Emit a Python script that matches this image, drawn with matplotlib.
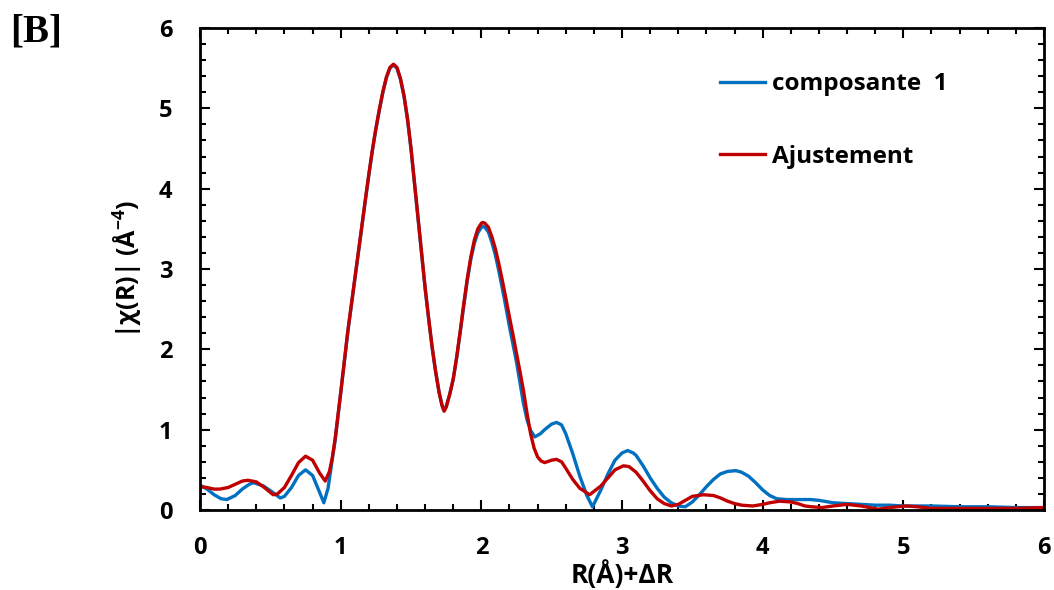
import numpy as np
import matplotlib
matplotlib.use("Agg")
import matplotlib.pyplot as plt
from matplotlib.ticker import MultipleLocator

plt.rcParams['font.family'] = ['Open Sans', 'DejaVu Sans']
plt.rcParams['mathtext.default'] = 'regular'

# composante 1 (blue)
r_comp = [0.00, 0.05, 0.10, 0.15, 0.19, 0.25, 0.30, 0.35, 0.38, 0.45, 0.50, 0.57, 0.60, 0.65,
          0.70, 0.75, 0.80, 0.85, 0.88, 0.91, 0.94, 0.96, 1.00, 1.025, 1.05, 1.075, 1.10, 1.125,
          1.15, 1.175, 1.20, 1.225, 1.25, 1.275, 1.30, 1.325, 1.35, 1.375, 1.40, 1.425, 1.45,
          1.475, 1.50, 1.525, 1.55, 1.575, 1.60, 1.625, 1.65, 1.675, 1.70, 1.72, 1.735, 1.75,
          1.775, 1.80, 1.825, 1.85, 1.875, 1.90, 1.925, 1.95, 1.975, 2.00, 2.01, 2.025, 2.05,
          2.075, 2.10, 2.125, 2.15, 2.175, 2.20, 2.225, 2.25, 2.275, 2.30, 2.325, 2.35, 2.38,
          2.42, 2.45, 2.50, 2.535, 2.57, 2.60, 2.65, 2.70, 2.75, 2.79, 2.85, 2.90, 2.95, 3.00,
          3.04, 3.08, 3.10, 3.15, 3.20, 3.25, 3.30, 3.35, 3.40, 3.45, 3.50, 3.55, 3.60, 3.65,
          3.70, 3.75, 3.81, 3.85, 3.90, 3.95, 4.00, 4.05, 4.10, 4.17, 4.25, 4.34, 4.40, 4.50,
          4.60, 4.70, 4.80, 4.90, 5.00, 5.20, 5.40, 5.60, 5.80, 6.00]
chi_comp = [0.31, 0.26, 0.19, 0.14, 0.13, 0.18, 0.26, 0.32, 0.34, 0.30, 0.24, 0.15, 0.17, 0.28,
            0.43, 0.50, 0.43, 0.22, 0.09, 0.27, 0.63, 0.86, 1.45, 1.83, 2.21, 2.54, 2.87, 3.20,
            3.52, 3.85, 4.17, 4.47, 4.74, 4.98, 5.20, 5.38, 5.50, 5.54, 5.50, 5.36, 5.15,
            4.86, 4.49, 4.06, 3.62, 3.19, 2.76, 2.38, 2.02, 1.72, 1.46, 1.31, 1.24, 1.29,
            1.44, 1.63, 1.90, 2.22, 2.55, 2.86, 3.12, 3.32, 3.45, 3.52, 3.53, 3.52, 3.46,
            3.33, 3.17, 2.97, 2.75, 2.52, 2.28, 2.06, 1.84, 1.58, 1.32, 1.12, 0.99, 0.91,
            0.95, 1.00, 1.07, 1.09, 1.06, 0.95, 0.70, 0.42, 0.18, 0.04, 0.25, 0.45, 0.62, 0.71,
            0.74, 0.71, 0.68, 0.55, 0.40, 0.27, 0.16, 0.09, 0.05, 0.04, 0.10, 0.19, 0.29, 0.38,
            0.45, 0.48, 0.49, 0.47, 0.42, 0.34, 0.25, 0.18, 0.14, 0.13, 0.13, 0.13, 0.12, 0.09,
            0.08, 0.07, 0.06, 0.06, 0.05, 0.05, 0.04, 0.04, 0.03, 0.03]

# Ajustement (red)
r_fit = [0.00, 0.05, 0.10, 0.14, 0.20, 0.25, 0.30, 0.34, 0.40, 0.45, 0.52, 0.55, 0.60, 0.65,
         0.70, 0.75, 0.80, 0.85, 0.89, 0.92, 0.94, 0.96, 1.00, 1.025, 1.05, 1.075, 1.10, 1.125,
         1.15, 1.175, 1.20, 1.225, 1.25, 1.275, 1.30, 1.325, 1.35, 1.375, 1.40, 1.425, 1.45,
         1.475, 1.50, 1.525, 1.55, 1.575, 1.60, 1.625, 1.65, 1.675, 1.70, 1.72, 1.735, 1.75,
         1.775, 1.80, 1.825, 1.85, 1.875, 1.90, 1.925, 1.95, 1.975, 2.00, 2.01, 2.025, 2.05,
         2.075, 2.10, 2.125, 2.15, 2.175, 2.20, 2.225, 2.25, 2.275, 2.30, 2.325, 2.35, 2.375,
         2.40, 2.425, 2.45, 2.50, 2.535, 2.57, 2.60, 2.65, 2.70, 2.77, 2.85, 2.90, 2.95, 3.01,
         3.05, 3.10, 3.15, 3.20, 3.25, 3.30, 3.35, 3.40, 3.45, 3.50, 3.58, 3.65, 3.70, 3.75,
         3.80, 3.85, 3.93, 4.00, 4.05, 4.12, 4.20, 4.25, 4.30, 4.35, 4.42, 4.50, 4.60, 4.70,
         4.82, 4.90, 5.02, 5.10, 5.20, 5.40, 5.60, 5.80, 6.00]
chi_fit = [0.29, 0.28, 0.26, 0.26, 0.28, 0.32, 0.36, 0.37, 0.35, 0.29, 0.19, 0.20, 0.28, 0.43,
           0.59, 0.67, 0.62, 0.46, 0.36, 0.48, 0.65, 0.88, 1.46, 1.84, 2.22, 2.55, 2.88, 3.21,
           3.53, 3.86, 4.18, 4.48, 4.75, 4.99, 5.21, 5.39, 5.51, 5.55, 5.51, 5.37, 5.16,
           4.87, 4.50, 4.07, 3.63, 3.20, 2.77, 2.39, 2.03, 1.72, 1.46, 1.30, 1.23, 1.28,
           1.44, 1.63, 1.91, 2.23, 2.57, 2.88, 3.15, 3.36, 3.50, 3.57, 3.58, 3.57, 3.52,
           3.40, 3.25, 3.06, 2.85, 2.63, 2.40, 2.18, 1.95, 1.72, 1.48, 1.20, 0.95, 0.77,
           0.66, 0.61, 0.59, 0.62, 0.63, 0.60, 0.52, 0.38, 0.27, 0.19, 0.30, 0.40, 0.50, 0.55,
           0.54, 0.47, 0.36, 0.24, 0.14, 0.08, 0.05, 0.07, 0.12, 0.17, 0.19, 0.18, 0.15, 0.11,
           0.08, 0.06, 0.05, 0.07, 0.09, 0.11, 0.10, 0.08, 0.05, 0.04, 0.03, 0.05, 0.07, 0.05,
           0.01, 0.03, 0.05, 0.04, 0.02, 0.02, 0.02, 0.02, 0.03]

fig = plt.figure(figsize=(10.54, 5.90), dpi=100)
ax = fig.add_axes([0.1898, 0.1356, 0.8007, 0.8169])

ax.plot(r_comp, chi_comp, color='#0070C0', lw=2.4, label='composante  1')
ax.plot(r_fit, chi_fit, color='#C00000', lw=2.4, label='Ajustement')

ax.set_xlim(0, 6)
ax.set_ylim(0, 6)
ax.xaxis.set_major_locator(MultipleLocator(1))
ax.xaxis.set_minor_locator(MultipleLocator(0.2))
ax.yaxis.set_major_locator(MultipleLocator(1))
ax.yaxis.set_minor_locator(MultipleLocator(0.2))
ax.tick_params(which='both', direction='in', top=True, right=True, width=1.5,
               labelsize=17)
ax.tick_params(which='major', length=7)
ax.tick_params(which='minor', length=4)
ax.tick_params(axis='x', pad=19)
ax.tick_params(axis='y', pad=20)
for lab in ax.get_xticklabels() + ax.get_yticklabels():
    lab.set_fontweight('bold')
for sp in ax.spines.values():
    sp.set_linewidth(2)

ax.set_xlabel('R(Å)+ΔR', fontsize=19, fontweight='bold', labelpad=0)
ax.set_ylabel('|χ(R)| (Å$^{-4}$)', fontsize=18, fontweight='bold', labelpad=10)

ax.legend(loc='upper left', bbox_to_anchor=(0.616, 0.908), frameon=False,
          borderpad=0, borderaxespad=0, handlelength=1.85, handletextpad=0.3,
          labelspacing=2.0, prop={'weight': 'bold', 'size': 17.5})

fig.text(0.0095, 0.929, '[B]', fontsize=28, fontweight='bold',
         family='Liberation Serif', va='baseline')

fig.savefig('out.png', dpi=100)
